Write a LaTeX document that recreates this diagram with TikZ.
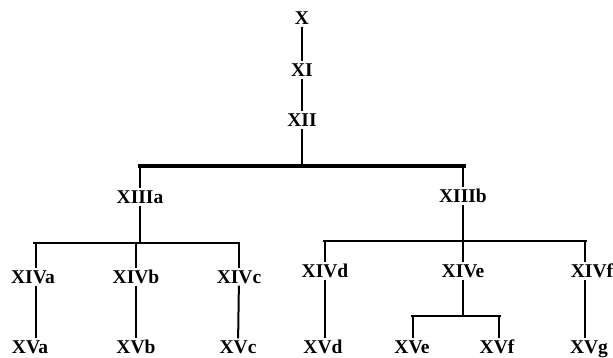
\documentclass[tikz,border=0pt]{standalone}
\usepackage{fontspec}
\setmainfont{Liberation Serif}
\usetikzlibrary{positioning}

\begin{document}
\begin{tikzpicture}[x=1pt, y=-1pt,
    every node/.style={font=\fontsize{19.5}{22}\selectfont\bfseries, inner sep=2pt, text height=13pt, text depth=0pt},
    stem/.style={line width=2pt},
    bar/.style={line width=2.6pt},
    mainbar/.style={line width=4pt}]
    \useasboundingbox (0,0) rectangle (613,358);
    % top chain
    \node (x) at (302,18) {X};
    \node (xi) at (302,70) {XI};
    \node (xii) at (302,120) {XII};
    \draw[stem] (x) -- (xi);
    \draw[stem] (xi) -- (xii);
    % main split
    \coordinate (mL) at (138,166);
    \coordinate (mR) at (466,166);
    \node (xiiia) at (140,197) {XIIIa};
    \node (xiiib) at (463,196) {XIIIb};
    \draw[stem] (xii) -- (xii |- mL);
    \draw[mainbar] (mL) -- (mR);
    \draw[stem] (xiiia.north |- mL) -- (xiiia);
    \draw[stem] (xiiib.north |- mR) -- (xiiib);
    % left group
    \coordinate (aL) at (33,243);
    \coordinate (aR) at (240,243);
    \node (xiva) at (33,277) {XIVa};
    \node (xivb) at (136,277) {XIVb};
    \node (xivc) at (239,277) {XIVc};
    \node (xva) at (30,347) {XVa};
    \node (xvb) at (136,347) {XVb};
    \node (xvc) at (238,347) {XVc};
    \coordinate (dA) at (36,243);
    \draw[stem] (xiiia) -- (xiiia |- aL);
    \draw[bar] (aL) -- (aR);
    \draw[stem] (dA) -- (dA |- xiva.north);
    \draw[stem] (xivb |- aL) -- (xivb);
    \draw[stem] (xivc |- aL) -- (xivc);
    \draw[stem] (dA |- xiva.south) -- (dA |- xva.north);
    \draw[stem] (xivb) -- (xvb);
    \draw[stem] (xivc) -- (xvc);
    % right group
    \coordinate (bL) at (323,241);
    \coordinate (bR) at (587,241);
    \node (xivd) at (325,271) {XIVd};
    \node (xive) at (463,271) {XIVe};
    \node (xivf) at (592,271) {XIVf};
    \node (xvd) at (323,347) {XVd};
    \node (xvg) at (589,347) {XVg};
    \coordinate (dF) at (585,241);
    \draw[stem] (xiiib) -- (xiiib |- bL);
    \draw[bar] (bL) -- (bR);
    \draw[stem] (xivd |- bL) -- (xivd);
    \draw[stem] (xive |- bL) -- (xive);
    \draw[stem] (dF) -- (dF |- xivf.north);
    \draw[stem] (xivd) -- (xivd |- xvd.north);
    \draw[stem] (dF |- xivf.south) -- (dF |- xvg.north);
    % XIVe split
    \coordinate (eL) at (411,316);
    \coordinate (eR) at (501,316);
    \node (xve) at (412,347) {XVe};
    \node (xvf) at (497,347) {XVf};
    \coordinate (dE) at (413,316);
    \coordinate (dF2) at (499,316);
    \draw[stem] (xive) -- (xive |- eL);
    \draw[bar] (eL) -- (eR);
    \draw[stem] (dE) -- (dE |- xve.north);
    \draw[stem] (dF2) -- (dF2 |- xvf.north);
\end{tikzpicture}
\end{document}
